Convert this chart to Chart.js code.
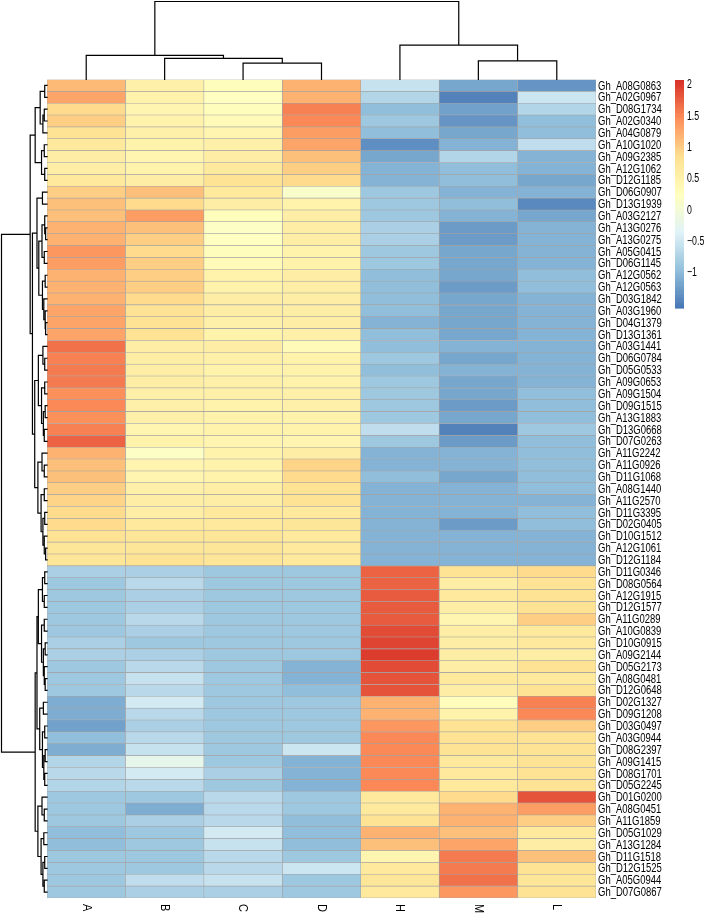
<!DOCTYPE html>
<html>
<head>
<meta charset="utf-8">
<script src="https://cdn.jsdelivr.net/npm/chart.js@4.4.1/dist/chart.umd.min.js"></script>
<style>
  html, body { margin: 0; padding: 0; background: #fff; }
  #wrap { width: 707px; height: 915px; }
</style>
</head>
<body>
<div id="wrap"><canvas id="heatChart"></canvas></div>
<script>
// colonnes (échantillons) dans l'ordre du dendrogramme
const samples = ['A', 'B', 'C', 'D', 'H', 'M', 'L'];

// gènes, de haut en bas
const genes = [
  'Gh_A08G0863','Gh_A02G0967','Gh_D08G1734','Gh_A02G0340','Gh_A04G0879','Gh_A10G1020','Gh_A09G2385',
  'Gh_A12G1062','Gh_D12G1185','Gh_D06G0907','Gh_D13G1939','Gh_A03G2127','Gh_A13G0276','Gh_A13G0275',
  'Gh_A05G0415','Gh_D06G1145','Gh_A12G0562','Gh_A12G0563','Gh_D03G1842','Gh_A03G1960','Gh_D04G1379',
  'Gh_D13G1361','Gh_A03G1441','Gh_D06G0784','Gh_D05G0533','Gh_A09G0653','Gh_A09G1504','Gh_D09G1515',
  'Gh_A13G1883','Gh_D13G0668','Gh_D07G0263','Gh_A11G2242','Gh_A11G0926','Gh_D11G1068','Gh_A08G1440',
  'Gh_A11G2570','Gh_D11G3395','Gh_D02G0405','Gh_D10G1512','Gh_A12G1061','Gh_D12G1184','Gh_D11G0346',
  'Gh_D08G0564','Gh_A12G1915','Gh_D12G1577','Gh_A11G0289','Gh_A10G0839','Gh_D10G0915','Gh_A09G2144',
  'Gh_D05G2173','Gh_A08G0481','Gh_D12G0648','Gh_D02G1327','Gh_D09G1208','Gh_D03G0497','Gh_A03G0944',
  'Gh_D08G2397','Gh_A09G1415','Gh_D08G1701','Gh_D05G2245','Gh_D01G0200','Gh_A08G0451','Gh_A11G1859',
  'Gh_D05G1029','Gh_A13G1284','Gh_D11G1518','Gh_D12G1525','Gh_A05G0944','Gh_D07G0867'
];

// valeurs centrées-réduites par colonne
const valA = [1.15,1.3,0.9,1.0,0.8,0.7,0.6,0.6,0.7,1.0,1.1,1.1,1.2,1.2,1.4,1.35,1.2,1.2,1.2,1.3,1.3,1.3,1.65,1.55,1.6,1.6,1.45,1.5,1.45,1.55,1.75,1.2,1.1,1.1,1.0,0.95,0.9,0.9,0.8,0.75,0.75,
  -0.75,-0.85,-0.85,-0.85,-0.85,-0.85,-0.75,-0.75,-0.85,-0.85,-0.85,-1.1,-1.1,-1.2,-0.95,-1.1,-0.7,-0.65,-0.7,-0.85,-0.85,-0.85,-0.95,-0.95,-0.85,-0.85,-0.85,-0.85];
const valB = [0.55,0.5,0.45,0.5,0.55,0.5,0.45,0.5,0.6,1.1,0.9,1.35,1.1,1.0,0.9,1.0,1.0,1.0,0.9,0.8,0.8,0.8,0.6,0.6,0.6,0.6,0.55,0.55,0.55,0.45,0.5,0.2,0.45,0.45,0.55,0.6,0.6,0.7,0.75,0.75,0.8,
  -0.75,-0.65,-0.75,-0.75,-0.65,-0.75,-0.85,-0.75,-0.65,-0.55,-0.65,-0.45,-0.65,-0.75,-0.65,-0.55,-0.2,-0.45,-0.65,-0.85,-1.1,-0.75,-0.85,-0.85,-0.85,-0.85,-0.6,-0.75];
const valC = [0.3,0.25,0.3,0.35,0.45,0.55,0.6,0.7,0.8,0.7,0.6,0.3,0.2,0.25,0.3,0.35,0.5,0.5,0.6,0.6,0.55,0.5,0.6,0.55,0.5,0.55,0.55,0.5,0.5,0.5,0.45,0.5,0.5,0.5,0.6,0.6,0.7,0.7,0.75,0.75,0.75,
  -0.85,-0.85,-0.85,-0.85,-0.85,-0.85,-0.85,-0.85,-0.85,-0.85,-0.85,-0.85,-0.85,-0.85,-0.85,-0.85,-0.85,-0.75,-0.85,-0.65,-0.65,-0.65,-0.45,-0.55,-0.65,-0.65,-0.55,-0.75];
const valD = [1.2,1.2,1.55,1.5,1.35,1.3,1.1,1.0,0.9,0.15,0.5,0.6,0.6,0.6,0.5,0.5,0.6,0.6,0.6,0.6,0.6,0.55,0.35,0.5,0.5,0.5,0.55,0.55,0.5,0.5,0.45,0.6,0.95,0.9,0.8,0.8,0.7,0.75,0.7,0.7,0.7,
  -0.85,-0.85,-0.85,-0.85,-0.85,-0.85,-0.85,-0.85,-1.05,-1.05,-0.95,-0.85,-0.85,-0.85,-0.85,-0.5,-1.05,-1.05,-1.05,-0.85,-0.85,-0.95,-0.95,-0.95,-0.85,-0.5,-0.85,-0.85];
const valH = [-0.55,-0.7,-0.95,-0.85,-0.95,-1.35,-1.15,-1.05,-1.05,-0.85,-0.85,-0.85,-0.75,-0.75,-0.85,-0.85,-0.95,-0.95,-0.95,-0.95,-1.05,-0.95,-0.95,-0.85,-0.95,-0.85,-0.85,-0.85,-0.85,-0.6,-0.85,-1.05,-1.05,-0.95,-1.05,-1.05,-1.05,-1.05,-1.05,-1.05,-1.05,
  1.75,1.75,1.8,1.8,1.8,1.9,1.95,2.0,1.9,1.85,1.85,1.2,1.2,1.4,1.5,1.5,1.5,1.5,1.5,0.7,0.7,0.8,1.2,1.1,0.45,0.7,0.75,0.7];
const valM = [-1.15,-1.45,-1.2,-1.3,-1.15,-1.05,-0.7,-0.95,-0.95,-1.05,-0.95,-1.05,-1.25,-1.25,-1.15,-1.15,-1.15,-1.25,-1.15,-1.15,-1.15,-1.15,-1.05,-1.15,-1.05,-1.15,-1.15,-1.25,-1.15,-1.45,-1.25,-1.05,-1.05,-1.15,-1.05,-1.05,-1.05,-1.25,-1.05,-1.05,-1.05,
  0.8,0.6,0.7,0.6,0.45,0.6,0.6,0.6,0.6,0.7,0.6,0.3,0.5,0.8,0.8,0.8,0.7,0.7,0.7,0.9,1.2,1.2,1.1,1.3,1.6,1.6,1.65,1.4];
const valL = [-1.3,-0.5,-0.7,-0.95,-0.95,-0.6,-1.05,-1.05,-1.15,-1.05,-1.4,-1.15,-1.05,-1.05,-1.05,-1.05,-0.95,-0.95,-1.05,-1.05,-1.05,-1.05,-1.05,-1.05,-1.05,-1.05,-0.95,-0.95,-0.95,-0.85,-0.95,-0.95,-0.95,-0.95,-0.95,-1.05,-0.95,-0.95,-1.05,-1.05,-1.05,
  0.9,0.8,0.8,0.8,1.0,0.7,0.7,0.6,0.8,0.7,0.8,1.55,1.5,1.0,0.8,0.8,0.8,0.8,0.8,1.85,1.35,1.0,0.7,0.6,1.1,0.8,0.75,0.8];
const columns = [valA, valB, valC, valD, valH, valM, valL];

// légende
const legendTicks = [2, 1.5, 1, 0.5, 0, -0.5, -1];
const legendMin = -1.56, legendMax = 2.08;

// dendrogrammes : [hauteur, gauche, droite], feuille = index
const colTree = [10, [3.1, 0, [2.7, 1, [2.1, 2, 3]]], [4.4, 4, [2.4, 5, 6]]];
const rowTree = [10,
  [3.7,
    [2.6, [1.5, [0.5, 0, 1], [0.9, [0.6, 2, 3], 4]], [1.2, [0.6, 5, 6], [0.5, 7, 8]]],
    [3.2,
      [2.2, [1.0, 9, 10], [1.8, [1.1, [0.5, 11, [0.3, 12, 13]], [0.6, 14, 15]], [1.0, [0.4, 16, 17], [0.7, 18, [0.4, 19, [0.3, 20, 21]]]]]],
      [2.7,
        [1.9, [0.9, 22, [0.5, 23, 24]], [1.2, [0.5, 25, 26], [0.8, [0.4, 27, 28], [0.6, 29, 30]]]],
        [2.0, [1.1, 31, [0.6, 32, 33]], [1.3, [0.6, 34, 35], [0.9, [0.5, 36, 37], [0.6, 38, [0.3, 39, 40]]]]]]]],
  [2.6,
    [2.2,
      [1.9, [1.0, [0.5, 41, 42], [0.6, 43, 44]], [1.2, [0.6, 45, 46], [0.8, [0.4, 47, 48], [0.6, 49, [0.4, 50, 51]]]]],
      [1.6, [0.8, 52, 53], [1.0, [0.5, 54, 55], [0.7, [0.4, 56, 57], [0.5, 58, 59]]]]],
    [2.0, [1.1, 60, [0.6, 61, 62]], [1.3, [0.7, 63, 64], [0.9, [0.5, 65, 66], [0.6, 67, 68]]]]]];

// palette RdYlBu inversée (comme pheatmap)
const palette = ['#4575B4', '#91BFDB', '#E0F3F8', '#FFFFBF', '#FEE090', '#FC8D59', '#D73027'];

function hexToRgb(h) {
  return [parseInt(h.slice(1, 3), 16), parseInt(h.slice(3, 5), 16), parseInt(h.slice(5, 7), 16)];
}
const palRgb = palette.map(hexToRgb);

function colorFor(v) {
  let t = (v - legendMin) / (legendMax - legendMin);
  t = Math.max(0, Math.min(1, t)) * (palRgb.length - 1);
  const i = Math.min(Math.floor(t), palRgb.length - 2);
  const f = t - i;
  const c = palRgb[i].map((a, k) => Math.round(a + (palRgb[i + 1][k] - a) * f));
  return 'rgb(' + c.join(',') + ')';
}

// parcours d'un arbre -> segments
function walkTree(node, segs) {
  if (typeof node === 'number') return { pos: node, h: 0 };
  const l = walkTree(node[1], segs);
  const r = walkTree(node[2], segs);
  segs.push({ h: node[0], l: l, r: r });
  return { pos: (l.pos + r.pos) / 2, h: node[0] };
}

const extrasPlugin = {
  id: 'heatmapExtras',
  afterDraw(chart) {
    const ctx = chart.ctx;
    const area = chart.chartArea;
    const xs = chart.scales.x;
    const ys = chart.scales.y;

    ctx.save();
    ctx.strokeStyle = '#000';
    ctx.lineWidth = 1.2;
    ctx.lineCap = 'square';

    // dendrogramme des colonnes
    let segs = [];
    walkTree(colTree, segs);
    const colK = (area.top - 1.5) / colTree[0];
    const cx = p => xs.getPixelForValue(p + 0.5);
    const cy = h => area.top - h * colK;
    ctx.beginPath();
    segs.forEach(s => {
      ctx.moveTo(cx(s.l.pos), cy(s.l.h));
      ctx.lineTo(cx(s.l.pos), cy(s.h));
      ctx.lineTo(cx(s.r.pos), cy(s.h));
      ctx.lineTo(cx(s.r.pos), cy(s.r.h));
    });
    ctx.stroke();

    // dendrogramme des lignes
    segs = [];
    walkTree(rowTree, segs);
    const rowK = (area.left - 1.5) / rowTree[0];
    const rx = h => area.left - h * rowK;
    const ry = p => ys.getPixelForValue(p);
    ctx.beginPath();
    segs.forEach(s => {
      ctx.moveTo(rx(s.l.h), ry(s.l.pos));
      ctx.lineTo(rx(s.h), ry(s.l.pos));
      ctx.lineTo(rx(s.h), ry(s.r.pos));
      ctx.lineTo(rx(s.r.h), ry(s.r.pos));
    });
    ctx.stroke();

    // noms des gènes (police étroite)
    ctx.fillStyle = '#000';
    ctx.font = '13px "Liberation Sans", Arial, sans-serif';
    ctx.textBaseline = 'middle';
    ctx.textAlign = 'left';
    genes.forEach((g, i) => {
      ctx.save();
      ctx.translate(area.right + 2, ry(i) + 0.5);
      ctx.scale(0.73, 1);
      ctx.fillText(g, 0, 0);
      ctx.restore();
    });

    // noms des échantillons, tournés
    samples.forEach((s, i) => {
      ctx.save();
      ctx.translate(cx(i), area.bottom + 6);
      ctx.rotate(Math.PI / 2);
      ctx.scale(0.85, 1);
      ctx.textBaseline = 'middle';
      ctx.fillText(s, 0, 0);
      ctx.restore();
    });

    // barre de couleur
    const barX = 675, barW = 9, barTop = 80, barBot = 308;
    const steps = 100;
    for (let k = 0; k < steps; k++) {
      const v = legendMin + (k + 0.5) / steps * (legendMax - legendMin);
      const y0 = barBot - (k + 1) / steps * (barBot - barTop);
      ctx.fillStyle = colorFor(v);
      ctx.fillRect(barX, y0, barW, (barBot - barTop) / steps + 0.6);
    }
    ctx.fillStyle = '#000';
    ctx.font = '12.5px "Liberation Sans", Arial, sans-serif';
    legendTicks.forEach(v => {
      const y = barBot - (v - legendMin) / (legendMax - legendMin) * (barBot - barTop);
      ctx.save();
      ctx.translate(barX + barW + 3, y);
      ctx.scale(0.7, 1);
      ctx.fillText(String(v).replace('-', '\u2212'), 0, 0);
      ctx.restore();
    });
    ctx.restore();
  }
};

const datasets = samples.map((s, c) => ({
  label: s,
  data: genes.map(() => 1),
  backgroundColor: columns[c].map(colorFor),
  borderColor: '#a3a3a3',
  borderWidth: 0.6,
  borderSkipped: false,
  barPercentage: 1,
  categoryPercentage: 1
}));

new Chart(document.getElementById('heatChart'), {
  type: 'bar',
  data: { labels: genes, datasets: datasets },
  options: {
    indexAxis: 'y',
    responsive: true,
    maintainAspectRatio: false,
    animation: false,
    layout: { padding: { left: 47, right: 111, top: 79.5, bottom: 17 } },
    scales: {
      x: { stacked: true, min: 0, max: samples.length, display: false },
      y: { stacked: true, display: false }
    },
    plugins: {
      legend: { display: false },
      tooltip: { enabled: false }
    }
  },
  plugins: [extrasPlugin]
});
</script>
</body>
</html>
